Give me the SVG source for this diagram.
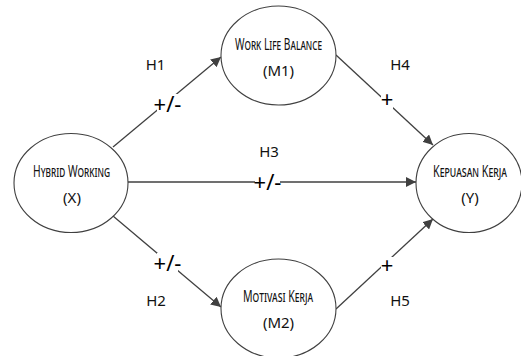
<svg xmlns="http://www.w3.org/2000/svg" width="521" height="356" viewBox="0 0 521 356">
<defs>
<marker id="ah" viewBox="0 0 10 10" refX="10" refY="5" markerWidth="10" markerHeight="10" markerUnits="userSpaceOnUse" orient="auto">
<path d="M0,0 L10,5 L0,10 z" fill="#404040"/>
</marker>
<style>
.node{fill:#fff;stroke:#404040;stroke-width:1.1}
.edge{stroke:#404040;stroke-width:1.3;fill:none}
.t{font-family:"Noto Sans","Liberation Sans",sans-serif;font-size:15px;fill:#111;text-anchor:middle}
.sc{font-variant:small-caps;font-size:16px}
.sign{font-family:"Noto Sans","Liberation Sans",sans-serif;font-size:22px;fill:#000;text-anchor:middle}
.bg{fill:#fff}
</style>
</defs>
<rect width="521" height="356" fill="#fff"/>
<g id="connectors">
<line class="edge" x1="113" y1="147" x2="221" y2="57" marker-end="url(#ah)"/>
<line class="edge" x1="336" y1="55" x2="433" y2="145" marker-end="url(#ah)"/>
<line class="edge" x1="128" y1="182" x2="416" y2="182" marker-end="url(#ah)"/>
<line class="edge" x1="113" y1="216" x2="221" y2="307" marker-end="url(#ah)"/>
<line class="edge" x1="336" y1="309" x2="433" y2="219" marker-end="url(#ah)"/>
<rect class="bg" x="157" y="94" width="21" height="21"/>
<text class="sign" x="167.5" y="112">+/-</text>
<rect class="bg" x="381" y="91" width="12" height="18"/>
<text class="sign" x="387" y="107">+</text>
<rect class="bg" x="255" y="172" width="25" height="21"/>
<text class="sign" x="267.5" y="190">+/-</text>
<rect class="bg" x="157" y="253" width="21" height="21"/>
<text class="sign" x="167.5" y="271">+/-</text>
<rect class="bg" x="381" y="257" width="12" height="18"/>
<text class="sign" x="387" y="273">+</text>
<text class="t" x="155.5" y="70">H1</text>
<text class="t" x="400" y="70">H4</text>
<text class="t" x="269" y="157">H3</text>
<text class="t" x="156" y="306">H2</text>
<text class="t" x="400" y="306">H5</text>
</g>
<g id="m1">
<ellipse class="node" cx="278.5" cy="55.5" rx="57.5" ry="49.5"/>
<text class="t sc" transform="translate(278.5,50) scale(0.8,1)" x="0" y="0" textLength="108.75" lengthAdjust="spacingAndGlyphs">Work Life Balance</text>
<text class="t" x="278.5" y="76">(M1)</text>
</g>
<g id="x">
<ellipse class="node" cx="71" cy="183" rx="57" ry="49.5"/>
<text class="t sc" transform="translate(71.5,177) scale(0.8,1)" x="0" y="0" textLength="96.25" lengthAdjust="spacingAndGlyphs">Hybrid Working</text>
<text class="t" x="72" y="203">(X)</text>
</g>
<g id="y">
<ellipse class="node" cx="469" cy="183" rx="53" ry="49.5"/>
<text class="t sc" transform="translate(470,177) scale(0.8,1)" x="0" y="0" textLength="92.5" lengthAdjust="spacingAndGlyphs">Kepuasan Kerja</text>
<text class="t" x="470" y="203">(Y)</text>
</g>
<g id="m2">
<ellipse class="node" cx="278.5" cy="308.5" rx="57.5" ry="49.5"/>
<text class="t sc" transform="translate(278,302) scale(0.8,1)" x="0" y="0" textLength="87.5" lengthAdjust="spacingAndGlyphs">Motivasi Kerja</text>
<text class="t" x="278.5" y="328">(M2)</text>
</g>
</svg>
